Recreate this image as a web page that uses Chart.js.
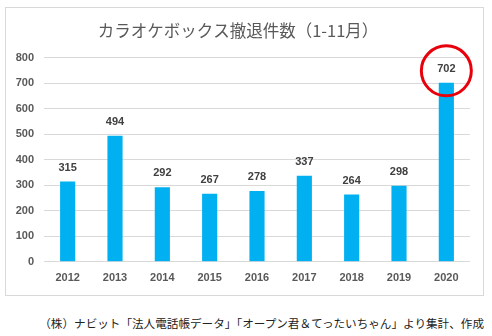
<!DOCTYPE html>
<html lang="ja">
<head>
<meta charset="utf-8">
<script src="https://cdn.jsdelivr.net/npm/chart.js@4.4.1/dist/chart.umd.min.js"></script>
<style>
  html, body { margin: 0; padding: 0; background: #fff; }
  body { width: 492px; height: 336px; position: relative; overflow: hidden; font-family: "Noto Sans CJK JP", sans-serif; }
  .box { position: absolute; left: 5px; top: 7px; width: 479px; height: 289px; border: 1px solid #d9d9d9; box-sizing: border-box; }
  .box canvas { display: block; }
  .source { position: absolute; left: 30px; top: 315px; width: 454px; text-align: right; font-size: 11.6px; color: #222; white-space: nowrap; }
</style>
</head>
<body>
<div class="box"><canvas id="chart-karaoke" width="477" height="287"></canvas></div>
<div class="source">（株）ナビット「法人電話帳データ」「オープン君＆てったいちゃん」より集計、作成</div>

<script>
/* ---------- データ ---------- */
const years = ['2012', '2013', '2014', '2015', '2016', '2017', '2018', '2019', '2020'];
const closures = [315, 494, 292, 267, 278, 337, 264, 298, 702];
const highlightYear = '2020';

const BAR_COLOR = '#00B0F0';
const TEXT_GRAY = '#595959';

/* ---------- 棒の上に件数を表示 ---------- */
const valueLabels = {
  id: 'valueLabels',
  afterDatasetsDraw(chart) {
    const { ctx } = chart;
    const meta = chart.getDatasetMeta(0);
    ctx.save();
    ctx.font = 'bold 11px "Liberation Sans", Arial, sans-serif';
    ctx.fillStyle = '#404040';
    ctx.textAlign = 'center';
    ctx.textBaseline = 'middle';
    meta.data.forEach((bar, i) => {
      ctx.fillText(closures[i], bar.x, bar.y - 14);
    });
    ctx.restore();
  }
};

/* ---------- 2020年の値を赤丸で囲む ---------- */
const highlightCircle = {
  id: 'highlightCircle',
  afterDraw(chart) {
    const idx = years.indexOf(highlightYear);
    if (idx < 0) return;
    const x = chart.scales.x.getPixelForValue(idx);
    const y = chart.scales.y.getPixelForValue(closures[idx]) - 12;
    const { ctx } = chart;
    ctx.save();
    ctx.beginPath();
    ctx.arc(x, y, 25, 0, Math.PI * 2);
    ctx.lineWidth = 3;
    ctx.strokeStyle = '#E8000B';
    ctx.stroke();
    ctx.restore();
  }
};

new Chart(document.getElementById('chart-karaoke'), {
  type: 'bar',
  data: {
    labels: years,
    datasets: [{
      label: '撤退件数',
      data: closures,
      backgroundColor: BAR_COLOR,
      barPercentage: 0.32,
      categoryPercentage: 1
    }]
  },
  options: {
    responsive: false,
    animation: false,
    layout: { padding: { left: 0, right: 13, top: 0, bottom: 0 } },
    plugins: {
      legend: { display: false },
      tooltip: { enabled: false },
      title: {
        display: true,
        text: 'カラオケボックス撤退件数（1-11月）',
        color: TEXT_GRAY,
        font: { family: '"Noto Sans CJK JP", sans-serif', size: 16.5, weight: 'normal' },
        padding: { top: 13, bottom: 17 }
      }
    },
    scales: {
      x: {
        grid: { display: false, drawTicks: false },
        border: { display: false },
        ticks: {
          color: TEXT_GRAY,
          font: { family: '"Liberation Sans", Arial, sans-serif', size: 11, weight: 'bold' },
          padding: 10
        }
      },
      y: {
        min: 0,
        max: 800,
        grid: { color: '#d9d9d9', drawTicks: false },
        border: { display: false },
        afterFit(scale) { scale.width = 38; },
        ticks: {
          stepSize: 100,
          color: TEXT_GRAY,
          font: { family: '"Liberation Sans", Arial, sans-serif', size: 11, weight: 'bold' },
          padding: 10
        }
      }
    }
  },
  plugins: [valueLabels, highlightCircle]
});
</script>
</body>
</html>
